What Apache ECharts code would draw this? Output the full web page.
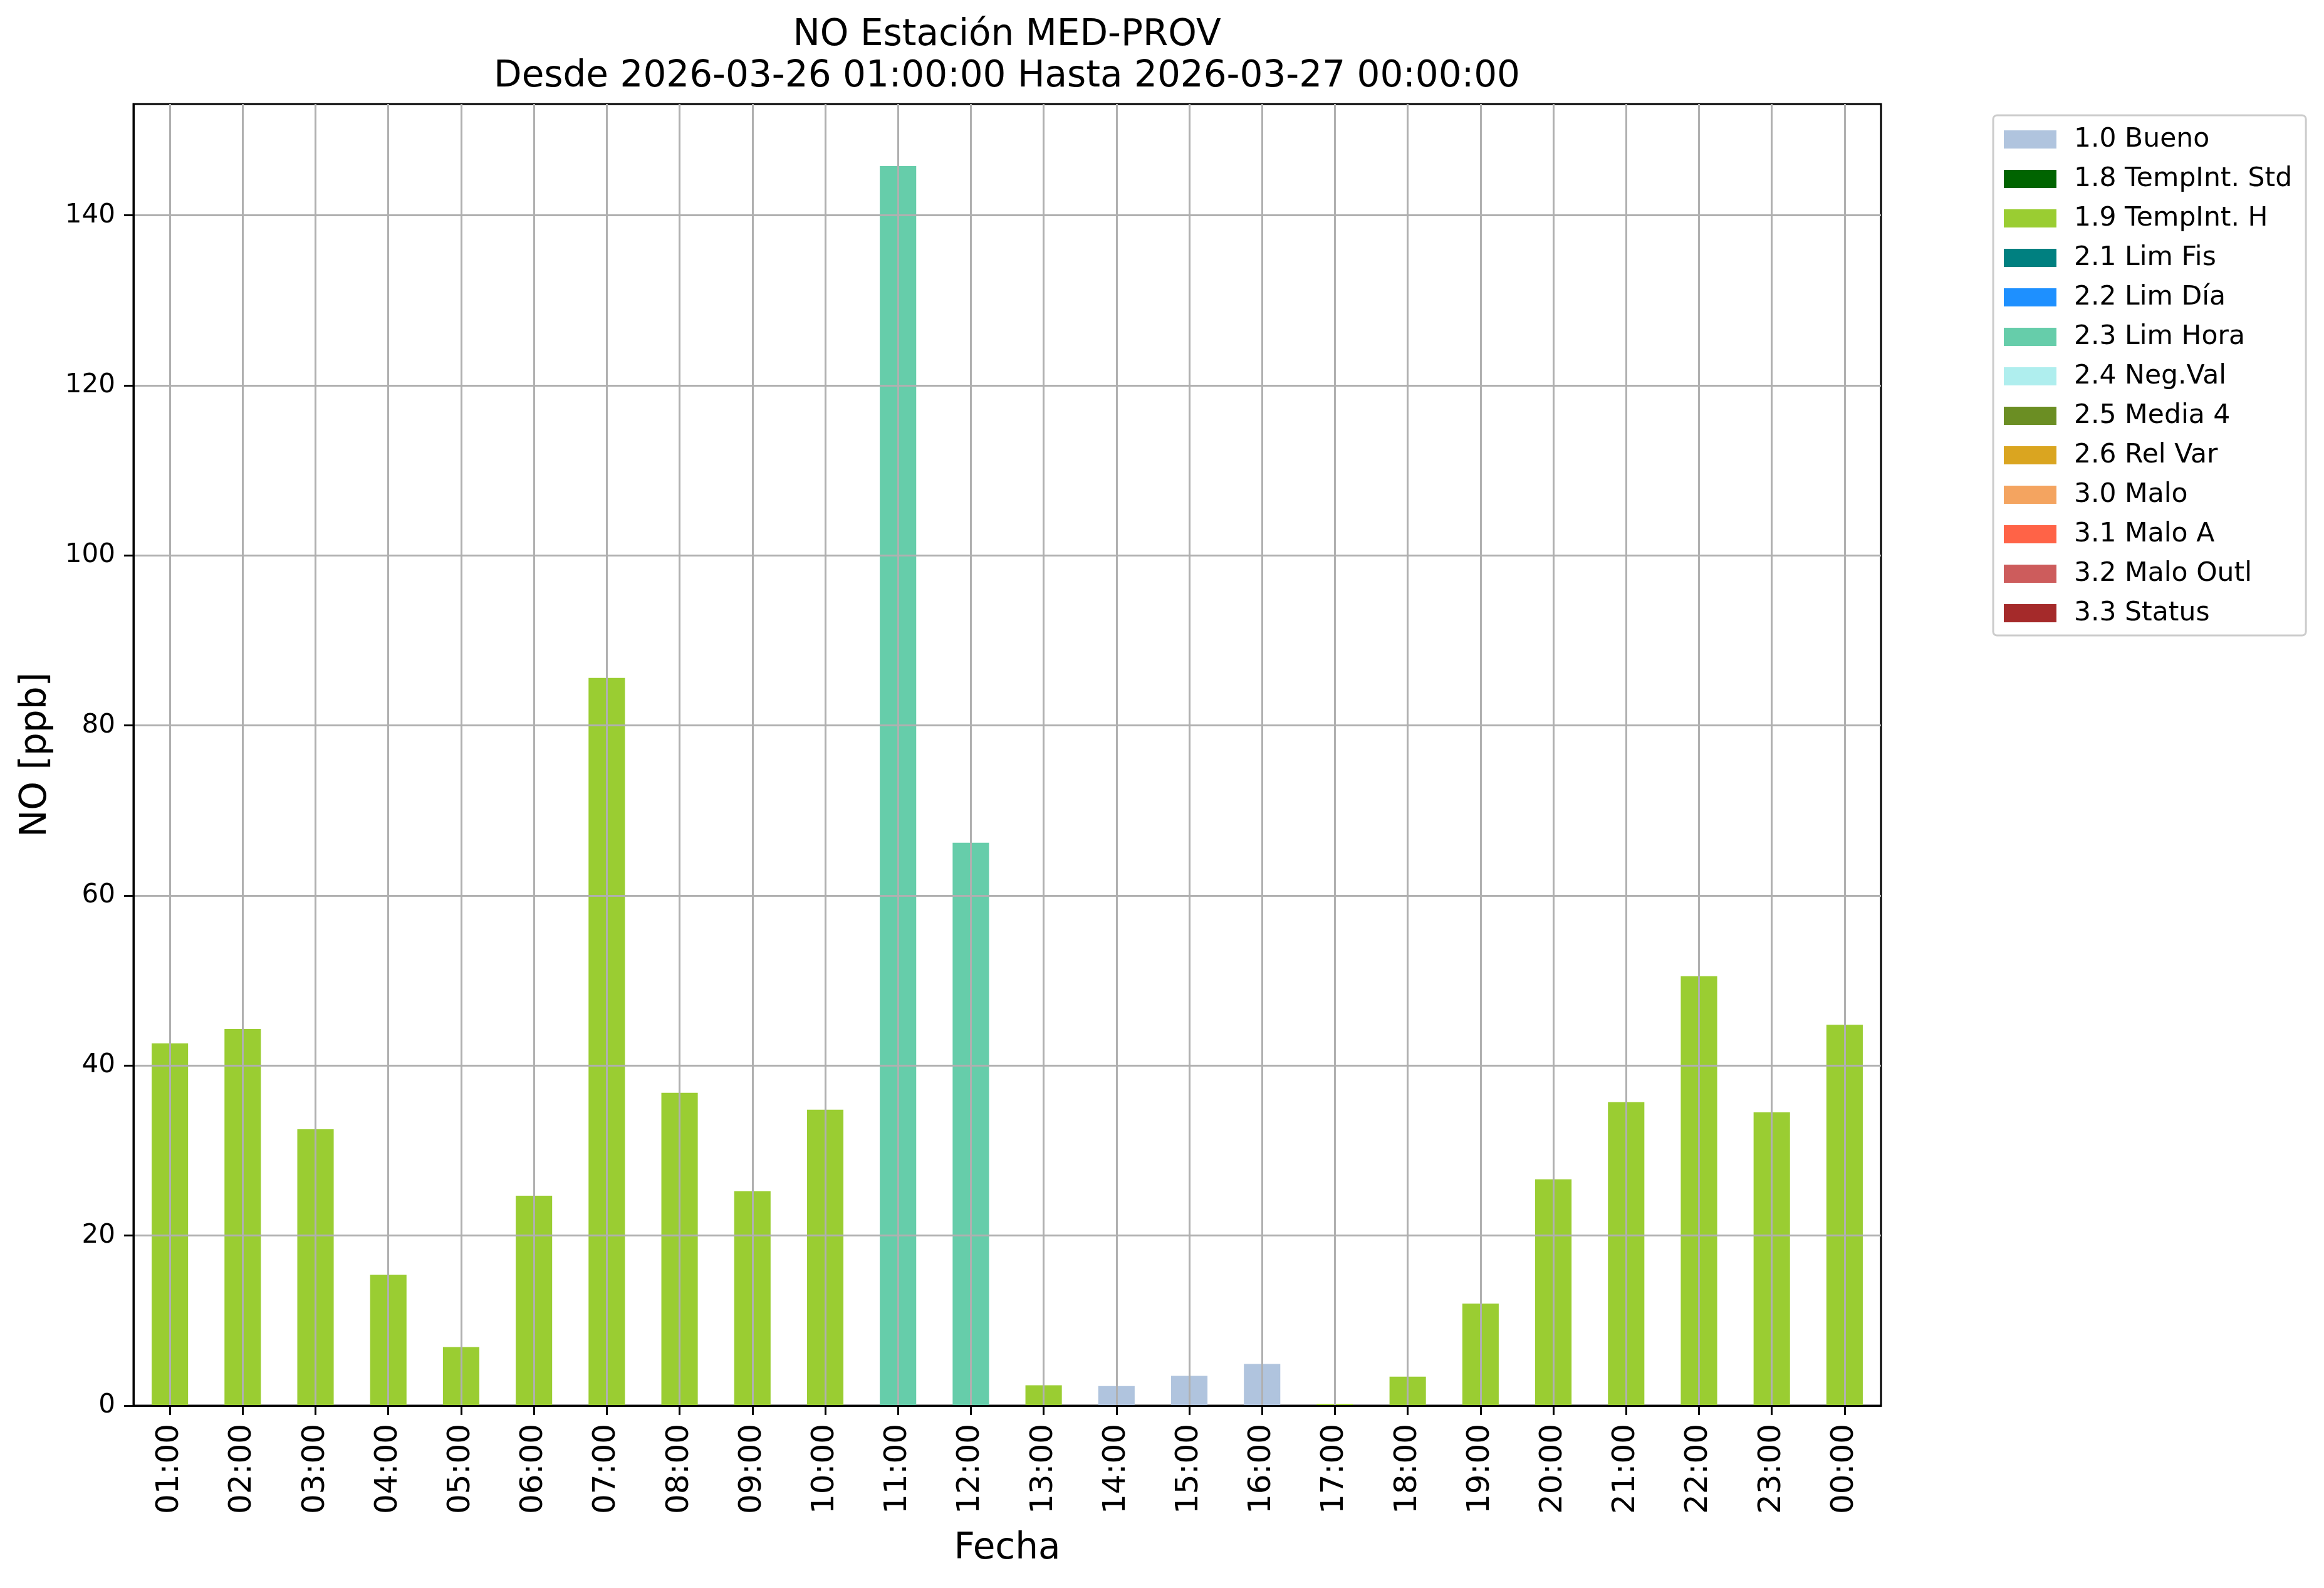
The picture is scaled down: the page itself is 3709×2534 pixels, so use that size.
<!DOCTYPE html>
<html>
<head>
<meta charset="utf-8">
<script src="https://cdn.jsdelivr.net/npm/echarts@6/dist/echarts.min.js"></script>
<style>
html,body{margin:0;padding:0;background:#fff;}
#chart{width:3709px;height:2534px;}
</style>
</head>
<body>
<div id="chart"></div>
<script>
const hours = ['01:00','02:00','03:00','04:00','05:00','06:00','07:00','08:00','09:00','10:00','11:00','12:00',
  '13:00','14:00','15:00','16:00','17:00','18:00','19:00','20:00','21:00','22:00','23:00','00:00'];
const values = [42.6, 44.3, 32.5, 15.4, 6.9, 24.7, 85.6, 36.8, 25.2, 34.8, 145.8, 66.2,
  2.4, 2.3, 3.5, 4.9, 0.2, 3.4, 12.0, 26.6, 35.7, 50.5, 34.5, 44.8];
const flags = ['1.9','1.9','1.9','1.9','1.9','1.9','1.9','1.9','1.9','1.9','2.3','2.3',
  '1.9','1.0','1.0','1.0','1.9','1.9','1.9','1.9','1.9','1.9','1.9','1.9'];
const flagCodes = ['1.0','1.8','1.9','2.1','2.2','2.3','2.4','2.5','2.6','3.0','3.1','3.2','3.3'];
const flagNames = ['1.0 Bueno','1.8 TempInt. Std','1.9 TempInt. H','2.1 Lim Fis','2.2 Lim Día','2.3 Lim Hora',
  '2.4 Neg.Val','2.5 Media 4','2.6 Rel Var','3.0 Malo','3.1 Malo A','3.2 Malo Outl','3.3 Status'];
const flagColors = ['#B0C4DE','#006400','#9ACD32','#008080','#1E90FF','#66CDAA','#AFEEEE','#6B8E23',
  '#DAA520','#F4A460','#FF6347','#CD5C5C','#A52A2A'];
const titleText = 'NO Estación MED-PROV\nDesde 2026-03-26 01:00:00 Hasta 2026-03-27 00:00:00';
const yName = 'NO [ppb]';
const xName = 'Fecha';

const FONT = 'DejaVu Sans';
const yMax = Math.max(...values) * 1.05;

const series = flagCodes.map((code, k) => ({
  name: flagNames[k],
  type: 'bar',
  stack: 'total',
  barWidth: '50%',
  itemStyle: { color: flagColors[k] },
  data: values.map((v, i) => flags[i] === code ? v : 0),
  z: 2
}));

const chart = echarts.init(document.getElementById('chart'), null, { renderer: 'canvas' });
chart.setOption({
  animation: false,
  backgroundColor: '#ffffff',
  textStyle: { fontFamily: FONT },
  title: {
    text: titleText,
    left: 1607,
    textAlign: 'center',
    top: 24,
    padding: 0,
    textStyle: { fontFamily: FONT, fontSize: 58, fontWeight: 'normal', color: '#000', lineHeight: 66 }
  },
  legend: {
    orient: 'vertical',
    left: 3181,
    top: 184,
    padding: [17, 22, 14, 17],
    itemWidth: 84,
    itemHeight: 29,
    itemGap: 20,
    icon: 'rect',
    backgroundColor: '#ffffff',
    borderColor: '#cccccc',
    borderWidth: 3,
    borderRadius: 6,
    textStyle: { fontFamily: FONT, fontSize: 42.5, color: '#000', lineHeight: 42, padding: [0, 0, 0, 23] },
    data: flagNames
  },
  grid: {
    left: 213, top: 166, width: 2789, height: 2077,
    show: true, borderColor: '#000', borderWidth: 3, backgroundColor: 'transparent'
  },
  xAxis: {
    type: 'category',
    data: hours,
    z: 5,
    name: xName,
    nameLocation: 'middle',
    nameGap: 200,
    nameTextStyle: { fontFamily: FONT, fontSize: 58, color: '#000' },
    axisLine: { show: true, lineStyle: { color: '#000', width: 3 } },
    axisTick: { show: true, alignWithLabel: true, length: 15, lineStyle: { color: '#000', width: 3 } },
    axisLabel: { interval: 0, rotate: 90, margin: 29, fontFamily: FONT, fontSize: 50, color: '#000' },
    splitLine: { show: true, alignWithLabel: true, interval: 0, lineStyle: { color: '#b0b0b0', width: 3 } }
  },
  yAxis: {
    type: 'value',
    min: 0,
    max: yMax,
    interval: 20,
    z: 5,
    name: yName,
    nameLocation: 'middle',
    nameRotate: 90,
    nameGap: 126,
    nameTextStyle: { fontFamily: FONT, fontSize: 58, color: '#000' },
    axisLine: { show: true, lineStyle: { color: '#000', width: 3 } },
    axisTick: { show: true, length: 15, lineStyle: { color: '#000', width: 3 } },
    axisLabel: { margin: 29, fontFamily: FONT, fontSize: 42, color: '#000', showMaxLabel: false },
    splitLine: { show: true, showMaxLine: false, lineStyle: { color: '#b0b0b0', width: 3 } }
  },
  series: series
});
</script>
</body>
</html>
